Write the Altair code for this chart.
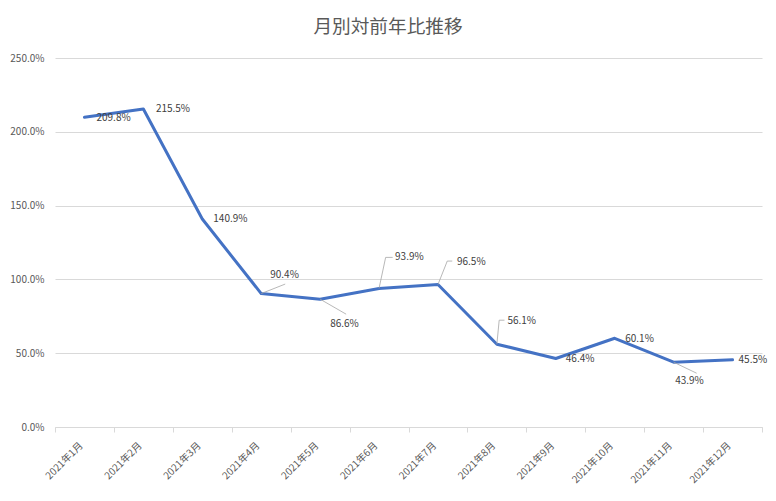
import numpy as np
import pandas as pd
import altair as alt

# ---- data ----
months = ["2021年1月", "2021年2月", "2021年3月", "2021年4月", "2021年5月", "2021年6月",
          "2021年7月", "2021年8月", "2021年9月", "2021年10月", "2021年11月", "2021年12月"]
values = [209.8, 215.5, 140.9, 90.4, 86.6, 93.9, 96.5, 56.1, 46.4, 60.1, 43.9, 45.5]
y_ticks = [0, 50, 100, 150, 200, 250]

# ---- label layout (pixel offsets from each point) ----
lab_dx = [12, 12.5, 11, 9, 10, 16, 19, 10.5, 10, 10.5, 1.5, 6]
lab_dy = [0.7, 0, 0, -18.6, 24.8, -31, -23, -23, 0.8, 1, 18.8, 0]
# leader lines: (point index, [(dx, dy), ...]) in pixels relative to the point
leaders = [
    (3, [(0, 0), (24, -9.5)]),
    (4, [(0, 0), (26, 15)]),
    (5, [(0, 0), (6.6, -31), (13.6, -31)]),
    (6, [(0, 0), (9.3, -23.5), (14.3, -23.5)]),
    (7, [(0, 0), (2.3, -24), (7.6, -24)]),
    (10, [(0, 0), (23, 11)]),
]

W, H = 707, 369
BAND_PX = W / 12
UNIT_PX = H / 250
FONT = "Noto Sans CJK JP"

df = pd.DataFrame({"idx": list(range(12)), "month": months, "value": values})
df["label"] = [f"{v:.1f}%" for v in values]
df["lx"] = df["idx"] + np.array(lab_dx) / BAND_PX
df["ly"] = df["value"] - np.array(lab_dy) / UNIT_PX

rows = []
for k, (i, pts) in enumerate(leaders):
    for o, (ddx, ddy) in enumerate(pts):
        rows.append({"grp": k, "ord": o,
                     "x": i + ddx / BAND_PX,
                     "y": values[i] - ddy / UNIT_PX})
lead_df = pd.DataFrame(rows)

xband = alt.Scale(domain=months, paddingInner=0, paddingOuter=0)
xscale = alt.Scale(domain=[-0.5, 11.5], nice=False, zero=False)
yscale = alt.Scale(domain=[0, 250], nice=False)

x_axis = alt.Axis(
    title=None,
    labelAngle=-45, labelAlign="right", labelBaseline="top",
    labelPadding=8, labelOffset=-7, labelOverlap=False,
    labelColor="#595959", labelFontSize=10, labelFont=FONT,
    grid=False, domainColor="#d9d9d9", tickColor="#d9d9d9", tickSize=5,
    tickBand="extent",
)
y_axis = alt.Axis(
    title=None, values=y_ticks,
    labelExpr="format(datum.value, '.1f') + '%'",
    domain=False, ticks=False, labelPadding=11,
    labelColor="#595959", labelFontSize=10, labelFont=FONT,
    grid=True, gridColor="#d9d9d9", gridWidth=1,
)
no_title = alt.Axis(title=None)

line = alt.Chart(df).mark_line(
    color="#4472C4", strokeWidth=3, strokeJoin="round", strokeCap="round"
).encode(
    x=alt.X("month:N", scale=xband, sort=months, axis=x_axis),
    y=alt.Y("value:Q", scale=yscale, axis=y_axis),
)

lead = alt.Chart(lead_df).mark_line(color="#a6a6a6", strokeWidth=0.8).encode(
    x=alt.X("x:Q", scale=xscale, axis=None),
    y=alt.Y("y:Q", scale=yscale, axis=no_title),
    detail="grp:N",
    order="ord:Q",
)

text = alt.Chart(df).mark_text(
    align="left", baseline="middle", fontSize=10, font=FONT, color="#404040"
).encode(
    x=alt.X("lx:Q", scale=xscale, axis=None),
    y=alt.Y("ly:Q", scale=yscale, axis=no_title),
    text="label:N",
)

chart = alt.layer(line, lead, text).resolve_scale(x="independent").properties(
    width=W, height=H,
    autosize=alt.AutoSizeParams(type="none"),
    padding={"left": 47, "top": 50, "right": 6, "bottom": 61},
    background="white",
    title=alt.TitleParams(
        "月別対前年比推移", fontSize=18.67, color="#595959", font=FONT,
        fontWeight="normal", anchor="middle", baseline="middle",
        offset=7, dx=-20.5,
    ),
).configure_view(stroke=None)

chart.save("out.html", embed_options={"renderer": "svg", "actions": False})
